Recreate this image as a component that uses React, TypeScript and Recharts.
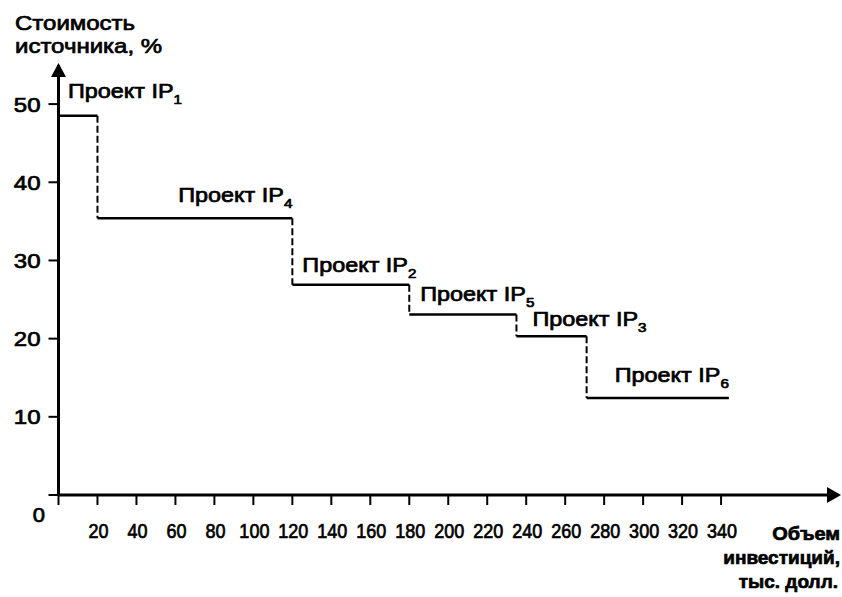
import React from "react";
import {
  ComposedChart,
  XAxis,
  YAxis,
  ReferenceLine,
  ReferenceDot,
} from "recharts";

// projects in order of falling IRR (ranked for the investment schedule)
const projectIds = ["1", "4", "2", "5", "3", "6"];
const investments = [20, 100, 60, 55, 36, 73]; // тыс. долл.
const rates = [48.5, 35.4, 26.9, 23.1, 20.3, 12.4]; // %

const xTicks = [0, 20, 40, 60, 80, 100, 120, 140, 160, 180, 200, 220, 240, 260, 280, 300, 320, 340];
const yTicks = [0, 10, 20, 30, 40, 50];

const X_MAX = 400;
const Y_MAX = 55;

const FONT = "'Liberation Sans', Arial, sans-serif";

// cumulative start/end of each step
const steps = investments.reduce<{ from: number; to: number; rate: number; id: string }[]>(
  (acc, inv, i) => {
    const from = i === 0 ? 0 : acc[i - 1].to;
    acc.push({ from, to: from + inv, rate: rates[i], id: projectIds[i] });
    return acc;
  },
  []
);

// where each project label sits relative to its step (pixels)
const labelLayout: Record<string, { side: "start" | "end"; dx: number; dy: number }> = {
  "1": { side: "start", dx: 9.5, dy: -18 },
  "4": { side: "end", dx: 0, dy: -16 },
  "2": { side: "start", dx: 10, dy: -13 },
  "5": { side: "start", dx: 11, dy: -13 },
  "3": { side: "start", dx: 16, dy: -10 },
  "6": { side: "end", dx: 0, dy: -16 },
};

function Txt({
  x,
  y,
  anchor = "start",
  size = 20,
  sx = 1.2,
  bold = false,
  children,
}: {
  x: number;
  y: number;
  anchor?: "start" | "middle" | "end";
  size?: number;
  sx?: number;
  bold?: boolean;
  children: React.ReactNode;
}) {
  return (
    <g transform={`translate(${x},${y}) scale(${sx},1)`}>
      <text
        x={0}
        y={0}
        textAnchor={anchor}
        fontFamily={FONT}
        fontSize={size}
        fontWeight={bold ? 700 : 400}
        fill="#000"
        stroke="#000"
        strokeWidth={0.7}
      >
        {children}
      </text>
    </g>
  );
}

function ProjectLabel(props: any) {
  const { cx, cy, id } = props;
  const l = labelLayout[id];
  return (
    <Txt x={cx + l.dx} y={cy + l.dy} anchor={l.side === "start" ? "start" : "end"} sx={1.17}>
      Проект IP
      <tspan fontSize={13} dy={6}>
        {id}
      </tspan>
    </Txt>
  );
}

function YTick(props: any) {
  const { x, y, payload } = props;
  if (payload.value === 0) {
    return <Txt x={x + 4.5} y={y + 27} anchor="end" sx={1.1}>0</Txt>;
  }
  return (
    <Txt x={x} y={y + 7.5} anchor="end" sx={1.2}>
      {payload.value}
    </Txt>
  );
}

function XTick(props: any) {
  const { x, y, payload } = props;
  if (payload.value === 0) return <g />;
  return (
    <Txt x={x + 1} y={y + 33} anchor="middle" sx={0.9}>
      {payload.value}
    </Txt>
  );
}

export default function App() {
  return (
    <div
      style={{
        position: "absolute",
        left: 0,
        top: 0,
        width: 842,
        height: 597,
        background: "#fff",
      }}
    >
      <ComposedChart
        width={842}
        height={597}
        data={[]}
        margin={{ top: 65, right: 4, left: 0, bottom: 62 }}
      >
        <XAxis
          type="number"
          dataKey="x"
          domain={[0, X_MAX]}
          ticks={xTicks}
          interval={0}
          height={40}
          tickSize={10}
          tickMargin={0}
          axisLine={{ stroke: "#000", strokeWidth: 3 }}
          tickLine={{ stroke: "#000", strokeWidth: 2 }}
          tick={<XTick />}
          allowDataOverflow
        />
        <YAxis
          type="number"
          domain={[0, Y_MAX]}
          ticks={yTicks}
          interval={0}
          width={58.5}
          tickSize={10}
          tickMargin={8}
          axisLine={{ stroke: "#000", strokeWidth: 3 }}
          tickLine={{ stroke: "#000", strokeWidth: 2 }}
          tick={<YTick />}
          allowDataOverflow
        />

        {/* horizontal parts of the schedule */}
        {steps.map((s) => (
          <ReferenceLine
            key={`h${s.id}`}
            segment={[
              { x: s.from, y: s.rate },
              { x: s.to, y: s.rate },
            ]}
            stroke="#000"
            strokeWidth={2.5}
            ifOverflow="visible"
          />
        ))}

        {/* dashed drops between projects */}
        {steps.slice(1).map((s, i) => (
          <ReferenceLine
            key={`v${s.id}`}
            segment={[
              { x: s.from, y: steps[i].rate },
              { x: s.from, y: s.rate },
            ]}
            stroke="#000"
            strokeWidth={2}
            strokeDasharray="7 3"
            ifOverflow="visible"
          />
        ))}

        {steps.map((s) => {
          const side = labelLayout[s.id].side;
          return (
            <ReferenceDot
              key={`l${s.id}`}
              x={side === "start" ? s.from : s.to}
              y={s.rate}
              r={0}
              ifOverflow="visible"
              shape={(p: any) => <ProjectLabel {...p} id={s.id} />}
            />
          );
        })}

        {/* axis arrows */}
        <ReferenceDot
          x={X_MAX}
          y={0}
          r={0}
          ifOverflow="visible"
          shape={(p: any) => (
            <polygon
              points={`${p.cx + 3},${p.cy} ${p.cx - 11},${p.cy - 8} ${p.cx - 11},${p.cy + 8}`}
              fill="#000"
            />
          )}
        />
        <ReferenceDot
          x={0}
          y={Y_MAX}
          r={0}
          ifOverflow="visible"
          shape={(p: any) => (
            <polygon
              points={`${p.cx},${p.cy - 2} ${p.cx - 7.5},${p.cy + 12} ${p.cx + 7.5},${p.cy + 12}`}
              fill="#000"
            />
          )}
        />
      </ComposedChart>

      <svg
        width={842}
        height={597}
        style={{ position: "absolute", left: 0, top: 0, pointerEvents: "none" }}
      >
        <Txt x={15} y={30}>Стоимость</Txt>
        <Txt x={15} y={53}>источника, %</Txt>
        <Txt x={840} y={540} anchor="end" size={19} sx={1.05} bold>
          Объем
        </Txt>
        <Txt x={840} y={564} anchor="end" size={19} sx={1.0} bold>
          инвестиций,
        </Txt>
        <Txt x={838} y={588} anchor="end" size={19} sx={1.0} bold>
          тыс. долл.
        </Txt>
      </svg>
    </div>
  );
}
